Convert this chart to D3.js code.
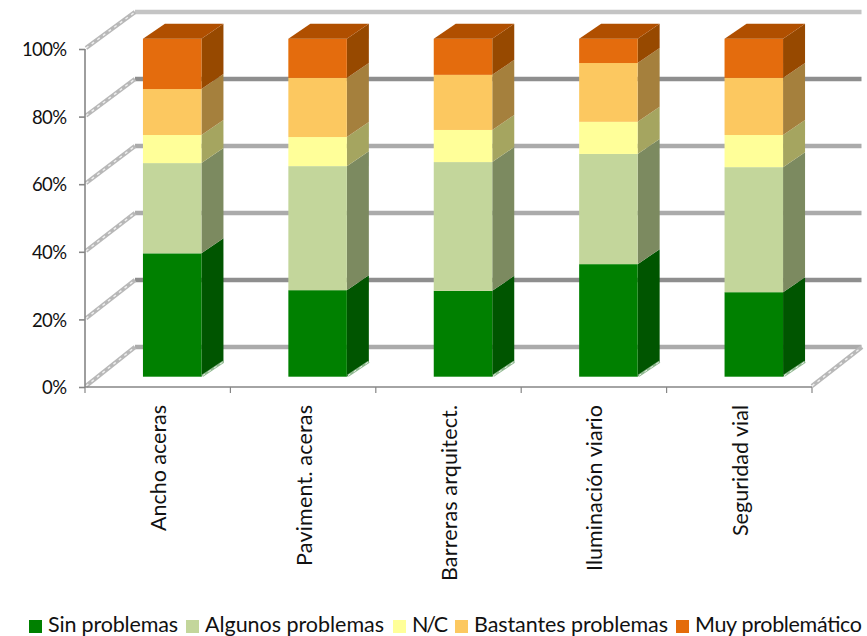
<!DOCTYPE html>
<html><head><meta charset="utf-8">
<script src="https://cdn.jsdelivr.net/npm/d3@7"></script>
<style>html,body{margin:0;background:#fff}svg{display:block}text{font-family:Lato,sans-serif;fill:#111}</style>
</head><body><svg id="c" width="867" height="636"></svg>
<script>
const categories=["Ancho aceras","Paviment. aceras","Barreras arquitect.","Iluminación viario","Seguridad vial"];
const seriesNames=["Sin problemas","Algunos problemas","N/C","Bastantes problemas","Muy problemático"];
const sinProblemas=[36.5,25.6,25.4,33.3,25.0];
const algunos=[26.7,36.7,38.1,32.6,37.0];
const nc=[8.3,8.6,9.5,9.5,9.5];
const bastantes=[13.6,17.5,16.3,17.4,16.9];
const muy=[14.9,11.6,10.7,7.2,11.6];
const yTicks=[0,20,40,60,80,100];
const seriesValues=[sinProblemas,algunos,nc,bastantes,muy];
const front=["#008000","#c3d69b","#ffff99","#fcc860","#e46c0a"];
const side=["#005500","#7c8a60","#a5a560","#a5803e","#974806"];
const topFace="#b05000";
const catLen=[126,161,176,166,131];
const legendLen=[130,179,36,194,167];

const svg=d3.select("#c");
const soft=svg.append("defs").append("filter").attr("id","soft").attr("x","-5%").attr("y","-5%").attr("width","110%").attr("height","110%");
soft.append("feGaussianBlur").attr("stdDeviation",0.45);
const y=d3.scaleLinear().domain([0,100]).range([387,49]);
const yBack=d3.scaleLinear().domain([0,100]).range([347,12]);
const x=d3.scaleBand().domain(categories).range([85,812]);
const wallDx=50;
const barFx=14.5,barFy=-10.3;
const sideDx=22,sideDy=-15;
const barW=58.5;

const g=svg.append("g").attr("filter","url(#soft)");
function diag(x1,y1,x2,y2){
  g.append("line").attr("x1",x1).attr("y1",y1).attr("x2",x2).attr("y2",y2).attr("stroke","#b8b8b8").attr("stroke-width",4.2);
  g.append("line").attr("x1",x1).attr("y1",y1).attr("x2",x2).attr("y2",y2).attr("stroke","#eeeeee").attr("stroke-width",1.4).attr("stroke-dasharray","3 4");
}
yTicks.forEach(t=>{
  const yb=yBack(t), c=(t===80||t===20)?"#8e8e8e":"#ababab";
  g.append("line").attr("x1",85+wallDx).attr("x2",812+wallDx-0.5).attr("y1",yb).attr("y2",yb).attr("stroke",t===100?"#c4c4c4":c).attr("stroke-width",4.5);
  diag(85+1,y(t)-1,85+wallDx,yb);
});
diag(812,y(0)-1,812+wallDx,yBack(0));

const axL=d3.axisLeft(y).tickValues(yTicks).tickFormat(d=>d+"%").tickSize(6).tickPadding(12);
const gy=svg.append("g").attr("transform","translate(85,0)").call(axL);
gy.selectAll("line,path").attr("stroke","#868686").attr("stroke-width",1.6);
gy.select("path").attr("d",`M0,${y(0)}V${y(100)}`);
gy.selectAll("text").attr("font-size",18.5).attr("fill","#111").attr("dy","0.36em")
  .attr("textLength",d=>d===100?45:(d===0?25:35)).attr("lengthAdjust","spacing");

const axB=d3.axisBottom(x).tickSize(0).tickFormat(d=>d);
const gx=svg.append("g").attr("transform",`translate(0,${y(0)})`).call(axB);
gx.select("path").attr("stroke","#868686").attr("stroke-width",1.6).attr("d","M85,0H812");
gx.selectAll(".tick text")
  .attr("transform","translate(1,18) rotate(-90)")
  .attr("x",0).attr("y",0).attr("dy","0.35em").attr("text-anchor","end").attr("font-size",21.5)
  .attr("textLength",(d,i)=>catLen[i]).attr("lengthAdjust","spacing");
[...categories.map(c=>x(c)),812].forEach(px=>gx.append("line").attr("x1",px).attr("x2",px).attr("y1",0).attr("y2",6).attr("stroke","#868686").attr("stroke-width",1.2));

const bars=svg.append("g").attr("filter","url(#soft)");
categories.forEach((c,i)=>{
  const x0=x(c)+x.bandwidth()/2+barFx-barW/2, x1=x0+barW;
  let acc=0;
  seriesValues.forEach((vals,s)=>{
    const y0=y(acc)+barFy, y1=y(acc+vals[i])+barFy;
    acc+=vals[i];
    bars.append("path").attr("fill",side[s])
      .attr("d",`M${x1},${y0}L${x1+sideDx},${y0+sideDy}L${x1+sideDx},${y1+sideDy}L${x1},${y1}Z`);
    bars.append("rect").attr("x",x0).attr("y",y1).attr("width",barW).attr("height",y0-y1).attr("fill",front[s]);
    if(s===0){
      bars.append("line").attr("x1",x1+1).attr("y1",y0-1).attr("x2",x1+sideDx).attr("y2",y0+sideDy).attr("stroke","#8fb98f").attr("stroke-width",2.5);
      bars.append("line").attr("x1",x1+1).attr("y1",y0-1).attr("x2",x1+sideDx).attr("y2",y0+sideDy).attr("stroke","#e8f0e8").attr("stroke-width",1).attr("stroke-dasharray","3 4");
    }
    if(s===seriesValues.length-1) bars.append("path").attr("fill",topFace)
      .attr("d",`M${x0},${y1}L${x0+sideDx},${y1+sideDy}L${x1+sideDx},${y1+sideDy}L${x1},${y1}Z`);
  });
});

const legendX=[29,186,393,455,676];
const lg=svg.append("g");
seriesNames.forEach((n,i)=>{
  lg.append("rect").attr("x",legendX[i]).attr("y",620).attr("width",13).attr("height",13).attr("fill",front[i]);
  lg.append("text").attr("x",legendX[i]+19).attr("y",632).attr("font-size",21.5)
    .attr("textLength",legendLen[i]).attr("lengthAdjust","spacing").text(n);
});
</script></body></html>
